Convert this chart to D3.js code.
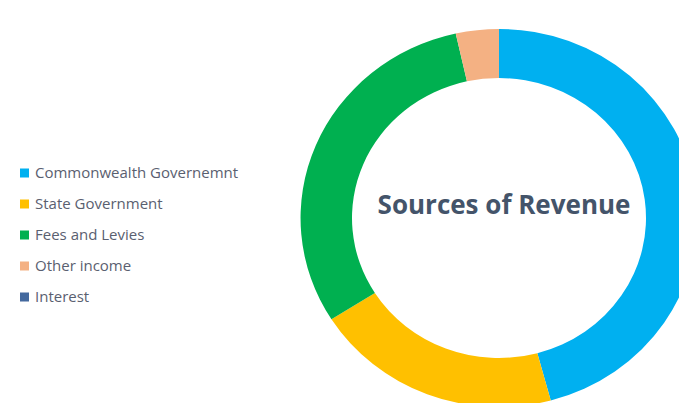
<!DOCTYPE html>
<html>
<head>
<meta charset="utf-8">
<script src="https://cdn.jsdelivr.net/npm/d3@7"></script>
<style>
  html, body { margin: 0; padding: 0; background: #fff; }
  svg { display: block; }
</style>
</head>
<body>
<div id="chart"></div>
<script>
// data
const categories = ['Commonwealth Governemnt', 'State Government', 'Fees and Levies', 'Other income', 'Interest'];
const shares = [45.8, 20.2, 30.5, 3.5, 0];
const colors = ['#00B0F0', '#FFC000', '#00B050', '#F4B183', '#44699E'];
const title = 'Sources of Revenue';

const width = 679, height = 403;

const svg = d3.select('#chart')
  .append('svg')
  .attr('width', width)
  .attr('height', height);

// --- donut ---
const cx = 499, cy = 218;
const outerR = 189, innerR = 140;

const pie = d3.pie().sort(null).value(d => d.v);
const arc = d3.arc().innerRadius(innerR).outerRadius(outerR);

const rows = categories.map((c, i) => ({ name: c, v: shares[i], color: colors[i] }));

// slightly wider than tall, like the picture
const ring = svg.append('g')
  .attr('transform', `translate(${cx},${cy}) scale(1.05,1)`);

ring.selectAll('path')
  .data(pie(rows))
  .join('path')
  .attr('d', arc)
  .attr('fill', d => d.data.color);

svg.append('text')
  .attr('x', 504)
  .attr('y', 214)
  .attr('text-anchor', 'middle')
  .style('font-family', '"Open Sans", sans-serif')
  .style('font-weight', '700')
  .style('font-size', '26px')
  .style('fill', '#44546A')
  .text(title);

// --- legend ---
const legend = svg.append('g').attr('transform', 'translate(20,173)');

const item = legend.selectAll('g')
  .data(rows)
  .join('g')
  .attr('transform', (d, i) => `translate(0,${i * 31})`);

item.append('rect')
  .attr('x', 0)
  .attr('y', -4.5)
  .attr('width', 9)
  .attr('height', 9)
  .attr('fill', d => d.color);

item.append('text')
  .attr('x', 15)
  .attr('y', 0)
  .attr('dy', '0.35em')
  .style('font-family', '"Open Sans", sans-serif')
  .style('font-size', '15px')
  .style('fill', '#5A6070')
  .text(d => d.name);
</script>
</body>
</html>
